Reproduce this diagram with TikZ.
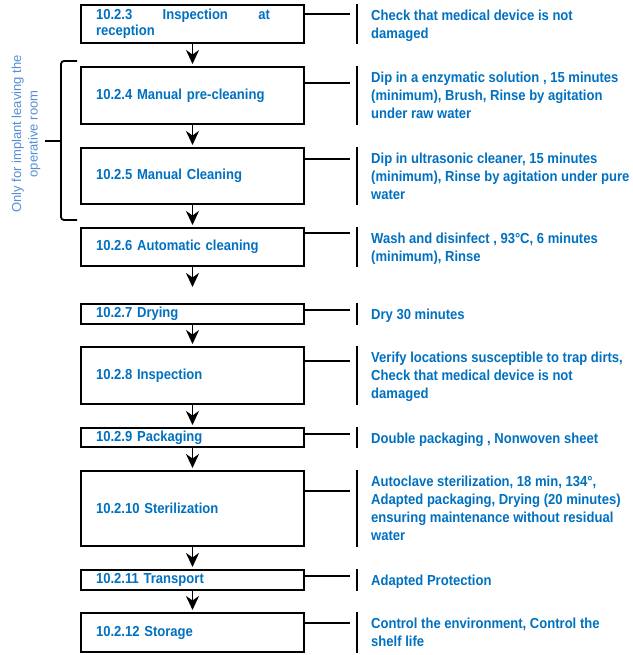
\documentclass[tikz,border=0pt]{standalone}
\usepackage{fontspec}
\setmainfont{Liberation Sans}
\newfontfamily\stepfont{Liberation Sans}[FakeStretch=0.9]
\usetikzlibrary{arrows.meta}
\definecolor{stepblue}{RGB}{0,112,192}
\definecolor{noteblue}{RGB}{84,141,212}

\begin{document}
\begin{tikzpicture}[x=1pt, y=-1pt,
  stepbox/.style={draw, line width=2pt, minimum width=223pt, inner xsep=15pt, inner ysep=0pt, text width=193pt, align=left, text=stepblue, font=\stepfont\bfseries\fontsize{14.5}{16.5}\selectfont},
  desc/.style={anchor=north west, inner sep=0pt, align=left, text=stepblue, font=\stepfont\bfseries\fontsize{14.5}{18}\selectfont},
  note/.style={rotate=90, inner sep=0pt, align=center, text=noteblue, font=\fontsize{13}{16.5}\selectfont},
  link/.style={line width=1.3pt},
  bar/.style={line width=2pt},
  brace/.style={line width=1.8pt, rounded corners=3pt},
  flow/.style={line width=1.8pt, -{Stealth[length=14pt, width=13pt, inset=4.5pt]}, shorten >=2pt}]
  \useasboundingbox (0,0) rectangle (632,655);
  \node[stepbox, minimum height=38pt] (S1) at (192.5,24) {\hbox to 174pt{10.2.3\hfill Inspection\hfill at}\\reception};
  \node[stepbox, minimum height=57pt] (S2) at (192.5,95.5) {10.2.4 Manual pre-cleaning};
  \node[stepbox, minimum height=56pt] (S3) at (192.5,176) {10.2.5 Manual Cleaning};
  \node[stepbox, minimum height=38pt] (S4) at (192.5,247) {10.2.6 Automatic cleaning};
  \node[stepbox, minimum height=20pt] (S5) at (192.5,314) {10.2.7 Drying};
  \node[stepbox, minimum height=57pt] (S6) at (192.5,375.5) {10.2.8 Inspection};
  \node[stepbox, minimum height=19pt] (S7) at (192.5,437.5) {10.2.9 Packaging};
  \node[stepbox, minimum height=75pt] (S8) at (192.5,508.5) {10.2.10 Sterilization};
  \node[stepbox, minimum height=20pt] (S9) at (192.5,580) {10.2.11 Transport};
  \node[stepbox, minimum height=39pt] (S10) at (192.5,632.5) {10.2.12 Storage};
  \node[desc] (D1) at (371,10) {Check that medical device is not\\damaged};
  \node[desc] (D2) at (371,72) {Dip in a enzymatic solution , 15 minutes\\(minimum), Brush, Rinse by agitation\\under raw water};
  \node[desc] (D3) at (371,153) {Dip in ultrasonic cleaner, 15 minutes\\(minimum), Rinse by agitation under pure\\water};
  \node[desc] (D4) at (371,233) {Wash and disinfect , 93°C, 6 minutes\\(minimum), Rinse};
  \node[desc] (D5) at (371,309) {Dry 30 minutes};
  \node[desc] (D6) at (371,352) {Verify locations susceptible to trap dirts,\\Check that medical device is not\\damaged};
  \node[desc] (D7) at (371,433) {Double packaging , Nonwoven sheet};
  \node[desc] (D8) at (371,476) {Autoclave sterilization, 18 min, 134°,\\Adapted packaging, Drying (20 minutes)\\ensuring maintenance without residual\\water};
  \node[desc] (D9) at (371,575) {Adapted Protection};
  \node[desc] (D10) at (371,618) {Control the environment, Control the\\shelf life};
  \node[note] (N) at (26,134) {Only for implant leaving the\\operative room};
  \coordinate (B) at (357,0);
  \coordinate (J1) at (350,14);
  \coordinate (J2) at (350,83);
  \coordinate (J3) at (350,159);
  \coordinate (J4) at (350,233);
  \coordinate (J5) at (350,310);
  \coordinate (J6) at (350,361);
  \coordinate (J7) at (350,434);
  \coordinate (J8) at (350,491);
  \coordinate (J9) at (350,576);
  \coordinate (J10) at (350,623);
  \draw[link] (S1.east |- J1) -- (J1);
  \draw[link] (S2.east |- J2) -- (J2);
  \draw[link] (S3.east |- J3) -- (J3);
  \draw[link] (S4.east |- J4) -- (J4);
  \draw[link] (S5.east |- J5) -- (J5);
  \draw[link] (S6.east |- J6) -- (J6);
  \draw[link] (S7.east |- J7) -- (J7);
  \draw[link] (S8.east |- J8) -- (J8);
  \draw[link] (S9.east |- J9) -- (J9);
  \draw[link] (S10.east |- J10) -- (J10);
  \draw[bar] (S1.north -| B) -- (S1.south -| B);
  \draw[bar] (S2.north -| B) -- (S2.south -| B);
  \draw[bar] (S3.north -| B) -- (S3.south -| B);
  \draw[bar] (S4.north -| B) -- (S4.south -| B);
  \draw[bar] (S5.north -| B) -- (S5.south -| B);
  \draw[bar] (S6.north -| B) -- (S6.south -| B);
  \draw[bar] (S7.north -| B) -- (S7.south -| B);
  \draw[bar] (S8.north -| B) -- (S8.south -| B);
  \draw[bar] (S9.north -| B) -- (S9.south -| B);
  \draw[bar] (S10.north -| B) -- (S10.south -| B);
  \draw[flow] (S1.south) -- (S2.north);
  \draw[flow] (S2.south) -- (S3.north);
  \draw[flow] (S3.south) -- (S4.north);
  \draw[flow, shorten >=16pt] (S4.south) -- (S5.north);
  \draw[flow] (S5.south) -- (S6.north);
  \draw[flow] (S6.south) -- (S7.north);
  \draw[flow] (S7.south) -- (S8.north);
  \draw[flow] (S8.south) -- (S9.north);
  \draw[flow] (S9.south) -- (S10.north);
  \draw[brace] (77,61) -- (61,61) -- (61,220) -- (77,220);
  \draw[brace] (61,141) -- (45,141);
\end{tikzpicture}
\end{document}
